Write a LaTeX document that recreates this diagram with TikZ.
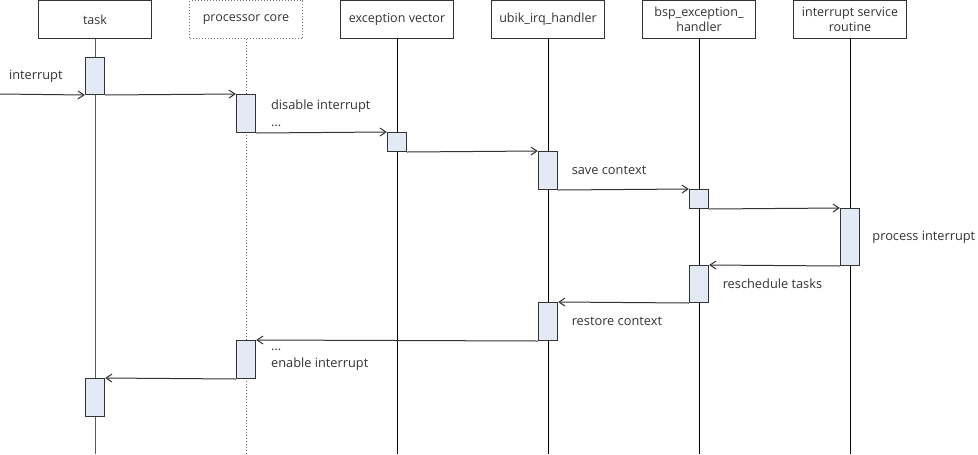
\documentclass[tikz,border=0pt]{standalone}
\usepackage{fontspec}
\setmainfont{Open Sans}
\usetikzlibrary{
    arrows.meta,
    positioning
}

\definecolor{actblue}{HTML}{E4EAF5}
\definecolor{inkgray}{HTML}{333333}

\tikzset{
    head/.style={draw=inkgray, line width=0.75pt, minimum width=84.75pt,
        minimum height=28.5pt, inner sep=1pt, align=center,
        font=\fontsize{9.4}{11.25}\selectfont, text=inkgray},
    lifeline/.style={line width=0.75pt, black},
    act/.style={draw=inkgray, fill=actblue, line width=0.75pt,
        minimum width=14.5pt, inner sep=0pt, anchor=north},
    msg/.style={line width=0.75pt, inkgray,
        -{Straight Barb[length=4.5pt,width=6pt]}},
    lbl/.style={inner sep=0pt, align=left,
        font=\fontsize{9.6}{12.75}\selectfont, text=inkgray}
}

\begin{document}
\begin{tikzpicture}[x=0.75pt,y=-0.75pt]

\useasboundingbox (0,0) rectangle (978,454);
\coordinate (bottom) at (0,454);
\coordinate (in) at (0,94);

% Participants
\foreach \n/\x/\t in {task/95/task, vec/397/{exception vector},
    irq/548/{ubik\_irq\_handler}, bsp/699/{bsp\_exception\_\\handler},
    isr/850/{interrupt service\\routine}}{
    \node[head] (\n) at (\x,19.5) {\t};
}
\node[head, draw=black!55, dash pattern=on 0.75pt off 1.5pt] (core) at (246,19.5) {processor core};

% Lifelines
\foreach \n in {vec,irq,bsp,isr}{
    \draw[lifeline] (\n.south) -- (\n |- bottom);
}
\draw[lifeline, black!65] (task.south) -- (task |- bottom);
\draw[lifeline, black!60, dash pattern=on 0.75pt off 1.5pt] (core.south) -- (core |- bottom);

% Activations
\node[act, minimum height=27.75pt] (t1) at (95,57) {};
\node[act, minimum height=28.5pt] (p1) at (246,94) {};
\node[act, minimum height=14.25pt] (e1) at (397,132) {};
\node[act, minimum height=28.5pt] (u1) at (548,151) {};
\node[act, minimum height=14.25pt] (b1) at (699,189) {};
\node[act, minimum height=42.75pt] (s1) at (850,208) {};
\node[act, minimum height=27.75pt] (b2) at (699,265) {};
\node[act, minimum height=28.5pt] (u2) at (548,302) {};
\node[act, minimum height=28.5pt] (p2) at (246,340) {};
\node[act, minimum height=28.5pt] (t2) at (95,378) {};

% Messages
\draw[msg] (in) -- (t1.south west);
\draw[msg] (t1.south east) -- (p1.north west);
\draw[msg] (p1.south east) -- (e1.north west);
\draw[msg] (e1.south east) -- (u1.north west);
\draw[msg] (u1.south east) -- (b1.north west);
\draw[msg] (b1.south east) -- (s1.north west);
\draw[msg] (s1.south west) -- (b2.north east);
\draw[msg] (b2.south west) -- (u2.north east);
\draw[msg] (u2.south west) -- (p2.north east);
\draw[msg] (p2.south west) -- (t2.north east);

% Labels
\node[lbl, left=16.5pt of t1] (lint) {interrupt};
\node[lbl, right=11pt of p1] (ldis) {disable interrupt\\...};
\node[lbl, right=10pt of u1] (lsave) {save context};
\node[lbl, right=9pt of s1] (lproc) {process interrupt};
\node[lbl, right=10pt of b2] (lres) {reschedule tasks};
\node[lbl, right=10pt of u2] (lrest) {restore context};
\node[lbl, right=11pt of p2] (lena) {...\\enable interrupt};

\end{tikzpicture}
\end{document}
